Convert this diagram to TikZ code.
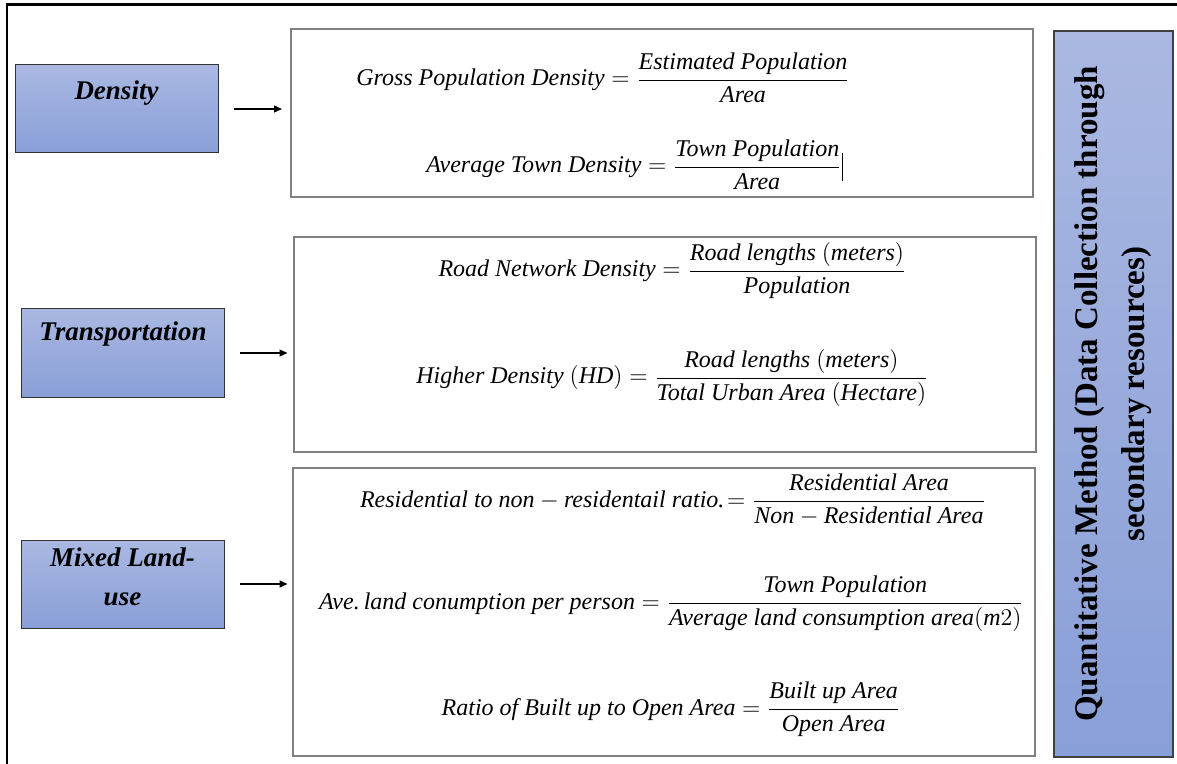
\documentclass[tikz,border=0pt]{standalone}
\usepackage{fontspec}
\setmainfont{Liberation Serif}
\usepackage{amsmath}
\usetikzlibrary{arrows.meta,positioning}

\definecolor{boxtop}{RGB}{170,184,226}
\definecolor{boxbot}{RGB}{137,159,215}
\definecolor{framegray}{RGB}{128,128,128}

\tikzset{
  catbox/.style={draw=black!80, line width=0.5pt, top color=boxtop, bottom color=boxbot,
    minimum width=101.5pt, minimum height=44pt, inner sep=0pt},
  cattext/.style={font=\fontsize{13.5}{19.5}\selectfont\bfseries\itshape, align=center, inner sep=0pt},
  formbox/.style={draw=framegray, line width=1pt, minimum width=371pt, inner sep=0pt},
  eqn/.style={anchor=base, inner sep=0pt, font=\fontsize{12}{14}\selectfont},
  arr/.style={-{Triangle[length=4pt,width=3.5pt]}, line width=0.6pt, shorten <=7.5pt},
}

\begin{document}
\begin{tikzpicture}[x=0.5pt,y=-0.5pt]
    \useasboundingbox (0,0) rectangle (1177,764);
    %% frame
    \draw [line width=1.3pt] (7,764) -- (7,4.5) -- (1177,4.5);

    %% categories
    \node [catbox] (dens) at (116.5,109) {};
    \node [catbox] (trans) at (123,353) {};
    \node [catbox] (mixed) at (122.5,584) {};
    \node [cattext, below=8pt of dens.north] (densl) {Density};
    \node [cattext, below=6.5pt of trans.north] (transl) {Transportation};
    \node [cattext, below=4pt of mixed.north] (mixedl) {Mixed Land-\\use};

    %% formula boxes
    \node [formbox, minimum height=84pt] (fone) at (662,113) {};
    \node [formbox, minimum height=107.5pt] (ftwo) at (664.5,344.5) {};
    \node [formbox, minimum height=144pt] (fthree) at (663.5,612) {};

    %% density
    \node [eqn] (gpd) at (603,86)
      {$\textit{Gross Population Density} = \dfrac{\textit{Estimated Population}}{\textit{Area}}$};
    \node [eqn] (atd) at (634,173)
      {$\textit{Average Town Density} = \dfrac{\textit{Town Population}}{\textit{Area}}$};
    \draw [line width=0.4pt] (atd.base east) ++(0,-20) -- ++(0,28);

    %% transportation
    \node [eqn] (rnd) at (672.5,277)
      {$\textit{Road Network Density} = \dfrac{\textit{Road lengths }(\textit{meters})}{\textit{Population}}$};
    \node [eqn] (hd) at (672.5,384)
      {$\textit{Higher Density }(\textit{HD}) = \dfrac{\textit{Road lengths }(\textit{meters})}{\textit{Total Urban Area }(\textit{Hectare})}$};

    %% mixed land-use
    \node [eqn] (rnr) at (673,507)
      {$\textit{Residential to non} - \textit{residentail ratio.}\!= \dfrac{\textit{Residential Area}}{\textit{Non} - \textit{Residential Area}}$};
    \node [eqn] (alc) at (671.5,609)
      {$\textit{Ave.}\,\textit{land conumption per person} = \dfrac{\textit{Town Population}}{\textit{Average land consumption area}(\textit{m}2)}$};
    \node [eqn] (rbo) at (671,715)
      {$\textit{Ratio of Built up to Open Area} = \dfrac{\textit{Built up Area}}{\textit{Open Area}}$};

    %% method bar
    \node [draw=black!75, line width=0.6pt, top color=boxtop, bottom color=boxbot,
      minimum width=59.5pt, minimum height=363pt, inner sep=0pt] (qm) at (1113.5,394) {};
    \node [rotate=90, align=center, inner sep=0pt,
      font=\fontsize{16.5}{23.5}\selectfont\bfseries] (qml) at (qm.center)
      {Quantitative Method (Data Collection through\\secondary resources)};

    %% arrows
    \draw [arr, shorten >=4pt] (dens.east) -- (dens.east -| fone.west);
    \draw [arr, shorten >=2.5pt] (trans.east) -- (trans.east -| ftwo.west);
    \draw [arr, shorten >=2pt] (mixed.east) -- (mixed.east -| fthree.west);
\end{tikzpicture}
\end{document}
